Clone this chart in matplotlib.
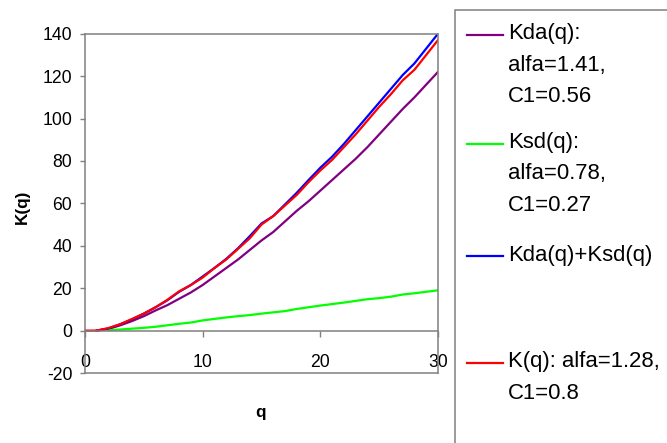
import numpy as np
import matplotlib.pyplot as plt
from matplotlib.lines import Line2D
from matplotlib.patches import Rectangle

plt.rcParams['font.family'] = ['Liberation Sans', 'DejaVu Sans']
plt.rcParams['axes.unicode_minus'] = False

# q moments and the scaling functions K(q)
q = list(range(31))
nan = np.nan
k_da = [nan, 0.0, 0.8, 2.5, 4.5, 6.8, 9.5, 12.0, 15.0, 18.0, 21.5,
        25.5, 29.5, 33.5, 38.0, 42.5, 46.5, 51.5, 56.5, 61.0, 66.0,
        71.0, 76.0, 81.0, 86.5, 92.5, 98.5, 104.5, 110.0, 116.0, 122.0]
k_sd = [nan, nan, 0.2, 0.5, 0.9, 1.3, 1.8, 2.5, 3.2, 3.8, 4.8,
        5.5, 6.2, 6.8, 7.3, 8.0, 8.6, 9.2, 10.2, 11.0, 11.8,
        12.5, 13.2, 14.0, 14.8, 15.3, 16.0, 17.0, 17.6, 18.3, 19.0]
k_sum = [nan, 0.0, 1.0, 3.0, 5.3, 8.0, 11.0, 14.3, 18.3, 21.5, 25.5,
         29.5, 33.8, 38.8, 44.5, 50.5, 54.0, 59.5, 65.0, 71.0, 76.8,
         82.0, 88.0, 94.5, 101.0, 107.5, 114.0, 120.5, 126.0, 133.0, 140.0]
k_fit = [0.0, 0.0, 1.2, 3.0, 5.5, 8.0, 11.0, 14.5, 18.5, 21.5, 25.0,
         29.5, 33.5, 38.5, 43.5, 50.0, 54.0, 59.0, 64.0, 70.0, 75.5,
         80.5, 86.5, 92.5, 99.0, 105.5, 111.5, 118.0, 123.0, 130.0, 137.0]

labels = [["Kda(q):", "alfa=1.41,", "C1=0.56"],
          ["Ksd(q):", "alfa=0.78,", "C1=0.27"],
          ["Kda(q)+Ksd(q)"],
          ["K(q): alfa=1.28,", "C1=0.8"]]
colors = ['#800080', '#00ff00', '#0000ff', '#ff0000']
series = [k_da, k_sd, k_sum, k_fit]

grey = '#808080'
W, H = 667, 443

fig = plt.figure(figsize=(W / 100, H / 100), dpi=100)
ax = fig.add_axes([85 / W, 1 - 373 / H, 353 / W, 339.3 / H])

for ys, c in zip(series, colors):
    ax.plot(q, ys, color=c, lw=1.6, solid_joinstyle='round')

ax.set_xlim(0, 30)
ax.set_ylim(-20, 140)
ax.set_xticks([0, 10, 20, 30])
ax.set_yticks(range(-20, 141, 20))

# category axis crosses at zero, plot area border all round
ax.spines['bottom'].set_position(('data', 0))
for s in ax.spines.values():
    s.set_color(grey)
    s.set_linewidth(1.1)
ax.axhline(-20, color=grey, lw=1.1, clip_on=False)

ax.tick_params(axis='x', direction='out', length=4.5, width=1.0, color=grey,
               pad=12.5, labelsize=12.7)
ax.tick_params(axis='y', direction='out', length=3.6, width=1.0, color=grey,
               pad=5.5, labelsize=12.7)

fig.text(22 / W, 1 - 207 / H, 'K(q)', rotation=90, ha='center', va='center',
         fontsize=12.3, fontweight='bold')
fig.text(261 / W, 1 - 412 / H, 'q', ha='center', va='center',
         fontsize=12.3, fontweight='bold')

# legend box, running off the right and bottom edges
fig.add_artist(Rectangle((455 / W, -0.2), 0.6, 1.2 - 10 / H,
                         transform=fig.transFigure, fill=False,
                         ec=grey, lw=1.1))
entry_top = [33.5, 142.5, 255, 362]
line_step = 31.5
for top, lines, c in zip(entry_top, labels, colors):
    fig.add_artist(Line2D([467 / W, 503 / W], [1 - (top + 1) / H] * 2,
                          transform=fig.transFigure, color=c, lw=1.6))
    for i, txt in enumerate(lines):
        fig.text(508 / W, 1 - (top + i * line_step) / H, txt,
                 ha='left', va='center', fontsize=15.9)

fig.savefig('out.png', dpi=100)
